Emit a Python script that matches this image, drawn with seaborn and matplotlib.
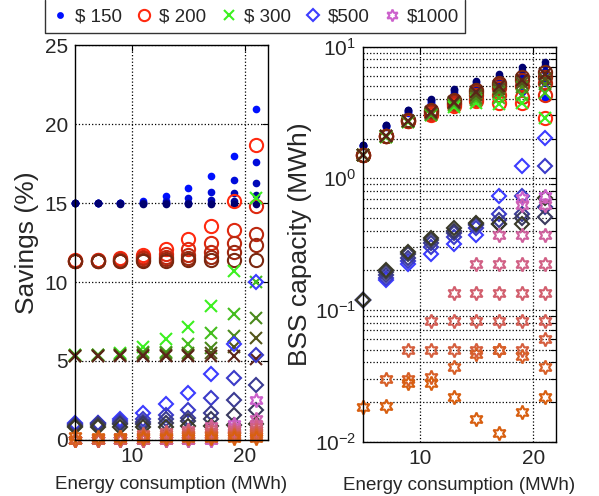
import numpy as np
import pandas as pd
import matplotlib.pyplot as plt
from matplotlib.lines import Line2D
import seaborn as sns

nan = np.nan
energy = [5, 7, 9, 11, 13, 15, 17, 19, 21]
prices = ['$ 150', '$ 200', '$ 300', '$500', '$1000']

# savings (%), one row per scenario, bright -> dark
sav_150 = [[15.0, 15.0, 15.0, 15.15, 15.46, 15.96, 16.7, 18.0, 20.94],
           [15.0, 15.0, 15.0, 15.0, 15.15, 15.3, 15.7, 16.46, 17.6],
           [15.0, 15.0, 15.0, 15.0, 15.0, 15.0, 15.2, 15.63, 16.25],
           [15.0, 15.0, 15.0, 15.0, 15.0, 15.0, 15.0, 15.14, 15.5],
           [15.0, 15.0, 14.95, 14.95, 14.95, 14.95, 14.95, 14.95, 14.94]]
sav_200 = [[11.4, 11.4, 11.5, 11.7, 12.06, 12.7, 13.57, 15.14, 18.66],
           [11.35, 11.4, 11.45, 11.6, 11.8, 12.06, 12.5, 13.3, 14.8],
           [11.35, 11.35, 11.4, 11.5, 11.6, 11.7, 11.93, 12.45, 13.05],
           [11.33, 11.35, 11.35, 11.4, 11.45, 11.5, 11.6, 11.9, 12.35],
           [11.33, 11.33, 11.33, 11.35, 11.35, 11.4, 11.4, 11.4, 11.4]]
sav_300 = [[5.35, 5.4, 5.5, 5.9, 6.4, 7.15, 8.5, 10.7, 15.3],
           [5.35, 5.4, 5.45, 5.6, 5.6, 6.1, 6.8, 8.0, 10.0],
           [5.33, 5.35, 5.4, 5.5, 5.5, 5.5, 5.85, 6.6, 7.7],
           [5.3, 5.3, 5.35, 5.4, 5.4, 5.4, 5.5, 5.9, 6.45],
           [5.3, 5.3, 5.3, 5.3, 5.3, 5.3, 5.3, 5.3, 5.1]]
sav_500 = [[1.05, 1.1, 1.3, 1.7, 2.3, 3.0, 4.2, 6.1, 10.0],
           [1.0, 1.05, 1.2, 1.3, 1.6, 1.9, 2.65, 3.9, 5.4],
           [0.95, 1.0, 1.05, 1.15, 1.3, 1.4, 1.7, 2.5, 3.5],
           [0.9, 0.95, 1.0, 1.0, 1.1, 1.2, 1.3, 1.6, 1.9],
           [0.85, 0.85, 0.85, 0.85, 0.85, 0.9, 0.9, 0.95, 1.0]]
sav_1000 = [[0, 0, 0, 0, 0, 0, 0, 1.0, 2.5],
            [0, 0, 0, 0, 0, 0, 0, 0.8, 1.3],
            [0, 0, 0, 0, 0, 0, 0.9, 0.7, 1.0],
            [0, 0, 0, 0, 0, 0.6, 0.7, 0.6, 0.8],
            [0, 0, 0, 0, 0.5, 0.5, 0.5, 0.5, 0.6],
            [0, 0, 0, 0.35, 0.35, 0.4, 0.4, 0.4, 0.5],
            [0, 0, 0.2, 0.25, 0.25, 0.3, 0.3, 0.3, 0.35],
            [0, 0.15, 0.2, 0.2, 0.2, 0.25, 0.25, 0.25, 0.25],
            [0.25, 0.2, 0.15, 0.15, 0.1, 0.1, 0.1, 0.1, 0.1]]

# BSS capacity (MWh), same rows
cap_150 = [[1.75, 2.45, 3.15, 3.7, 4.2, 4.5, 4.6, 4.5, 4.06],
           [1.76, 2.48, 3.2, 3.8, 4.4, 4.9, 5.2, 5.4, 5.3],
           [1.78, 2.5, 3.25, 3.9, 4.55, 5.2, 5.7, 6.1, 6.5],
           [1.79, 2.52, 3.28, 3.95, 4.65, 5.35, 5.95, 6.6, 7.2],
           [1.80, 2.55, 3.31, 3.98, 4.75, 5.52, 6.18, 6.98, 7.70]]
cap_200 = [[1.50, 2.08, 2.72, 3.0, 3.55, 3.84, 3.73, 3.72, 2.86],
           [1.50, 2.09, 2.73, 3.1, 3.65, 4.0, 4.3, 4.18, 4.31],
           [1.51, 2.1, 2.74, 3.2, 3.75, 4.3, 4.84, 5.0, 5.3],
           [1.51, 2.1, 2.75, 3.25, 3.85, 4.5, 5.1, 5.6, 5.9],
           [1.51, 2.1, 2.75, 3.3, 3.9, 4.7, 5.28, 5.93, 6.46]]
cap_300 = [[1.50, 2.06, 2.7, 3.0, 3.5, 3.7, 3.65, 3.72, 2.86],
           [1.50, 2.07, 2.7, 3.05, 3.6, 3.9, 4.1, 4.3, 4.44],
           [1.50, 2.08, 2.72, 3.1, 3.7, 4.1, 4.5, 4.9, 5.2],
           [1.51, 2.09, 2.73, 3.15, 3.75, 4.3, 4.8, 5.3, 5.7],
           [1.51, 2.1, 2.74, 3.2, 3.8, 4.5, 5.0, 5.6, 6.2]]
cap_500 = [[0.12, 0.168, 0.222, 0.267, 0.318, 0.374, 0.73, 1.23, 2.02],
           [0.12, 0.175, 0.235, 0.30, 0.36, 0.42, 0.537, 0.73, 1.23],
           [0.12, 0.185, 0.25, 0.32, 0.385, 0.44, 0.486, 0.537, 0.61],
           [0.12, 0.195, 0.265, 0.34, 0.40, 0.45, 0.45, 0.50, 0.507],
           [0.12, 0.203, 0.277, 0.353, 0.42, 0.459, 0.45, 0.45, 0.71]]
cap_1000 = [[nan, nan, nan, nan, nan, nan, nan, 0.71, 0.73],
            [nan, nan, nan, nan, nan, nan, nan, 0.625, 0.625],
            [nan, nan, nan, nan, nan, nan, 0.374, 0.374, 0.374],
            [nan, nan, nan, nan, nan, 0.224, 0.224, 0.224, 0.224],
            [nan, nan, nan, nan, 0.135, 0.135, 0.135, 0.135, 0.135],
            [nan, nan, nan, 0.083, 0.083, 0.083, 0.083, 0.083, 0.083],
            [nan, nan, 0.050, 0.050, 0.050, 0.050, 0.050, 0.050, 0.060],
            [nan, 0.030, 0.030, 0.031, 0.037, 0.046, 0.050, 0.045, 0.037],
            [0.0184, 0.0186, 0.028, 0.028, 0.0217, 0.0149, 0.0116, 0.0167, 0.0217]]

savings = [sav_150, sav_200, sav_300, sav_500, sav_1000]
capacity = [cap_150, cap_200, cap_300, cap_500, cap_1000]

rows = []
for p, sv, cp in zip(prices, savings, capacity):
    for i in range(len(sv)):
        for e, s, c in zip(energy, sv[i], cp[i]):
            rows.append({'price': p, 'scen': i, 'energy': e, 'savings': s, 'capacity': c})
df = pd.DataFrame(rows)

styles = {
    '$ 150': dict(marker='.', ms=8, fill=True, base='#0010ff', dark='#000070'),
    '$ 200': dict(marker='o', ms=9.5, fill=False, base='#ff2a10', dark='#7a2810'),
    '$ 300': dict(marker='x', ms=8.5, fill=False, base='#3cf020', dark='#5a2418'),
    '$500': dict(marker='D', ms=7, fill=False, base='#3c3cff', dark='#3a3a28'),
    '$1000': dict(marker=(6, 1, 0), ms=10, fill=False, base='#cc60cc', dark='#d85f10'),
}

sns.set_style('white')
plt.rcParams['font.family'] = ['Liberation Sans', 'DejaVu Sans']
plt.rcParams['mathtext.fontset'] = 'custom'
plt.rcParams['mathtext.rm'] = 'Liberation Sans'

fig = plt.figure(figsize=(5.99, 4.96), dpi=100)
ax1 = fig.add_axes([0.125, 0.113, 0.322, 0.796])
ax2 = fig.add_axes([0.606, 0.1095, 0.322, 0.7965])

for p in prices:
    st = styles[p]
    sub_p = df[df.price == p]
    n = sub_p.scen.nunique()
    pal = sns.blend_palette([st['base'], st['dark']], n)
    for i in range(n):
        sub = sub_p[sub_p.scen == i]
        col = pal[i]
        kw = dict(color=col, marker=st['marker'], linestyle='', markersize=st['ms'],
                  markeredgecolor=col, markeredgewidth=1.5,
                  markerfacecolor=col if st['fill'] else 'none',
                  clip_on=False, legend=False, errorbar=None, estimator=None)
        sns.lineplot(data=sub, x='energy', y='savings', ax=ax1, **kw)
        sns.lineplot(data=sub.dropna(), x='energy', y='capacity', ax=ax2, **kw)

fs = 13.5
for ax in (ax1, ax2):
    ax.set_xlim(5, 22)
    ax.set_xticks([10, 20])
    ax.set_xlabel('Energy consumption (MWh)', fontsize=fs, labelpad=7)
    ax.tick_params(axis='both', which='both', direction='in', top=True, right=True,
                   labelsize=15, length=4, width=0.8, color='black', pad=5)
    for s in ax.spines.values():
        s.set_color('black')
        s.set_linewidth(1.0)
    ax.set_axisbelow(True)

ax1.set_ylim(0, 25)
ax1.set_yticks([0, 5, 10, 15, 20, 25])
ax1.set_ylabel('Savings (%)', fontsize=19, labelpad=4)
ax1.grid(True, linestyle=':', color='black', linewidth=0.9)

ax2.set_yscale('log')
ax2.set_ylim(0.01, 10)
ax2.set_ylabel('BSS capacity (MWh)', fontsize=19, labelpad=2)
ax2.grid(True, which='major', linestyle=':', color='black', linewidth=0.9)
ax2.grid(True, which='minor', axis='y', linestyle=':', color='black', linewidth=0.9)

handles = []
for p in prices:
    st = styles[p]
    handles.append(Line2D([], [], marker=st['marker'], linestyle='', color=st['base'],
                          markersize=st['ms'] * 0.85, markeredgewidth=1.5,
                          markerfacecolor=st['base'] if st['fill'] else 'none'))
lx0, lx1, ly0 = 45 / 599, 465 / 599, 1 - 33 / 496
fig.legend(handles, prices, loc='center left', ncol=5, mode='expand',
           bbox_to_anchor=(lx0, ly0, lx1 - lx0, 1 - ly0),
           borderaxespad=0, frameon=False, fontsize=fs,
           handlelength=1.0, handletextpad=0.3, borderpad=0.3, columnspacing=0.8)
# legend box, top edge runs off the figure
fig.add_artist(Line2D([lx0, lx0, lx1, lx1], [1.0, ly0, ly0, 1.0],
                      transform=fig.transFigure, color='#333333', linewidth=1.0))

fig.savefig('out.png', dpi=100)
